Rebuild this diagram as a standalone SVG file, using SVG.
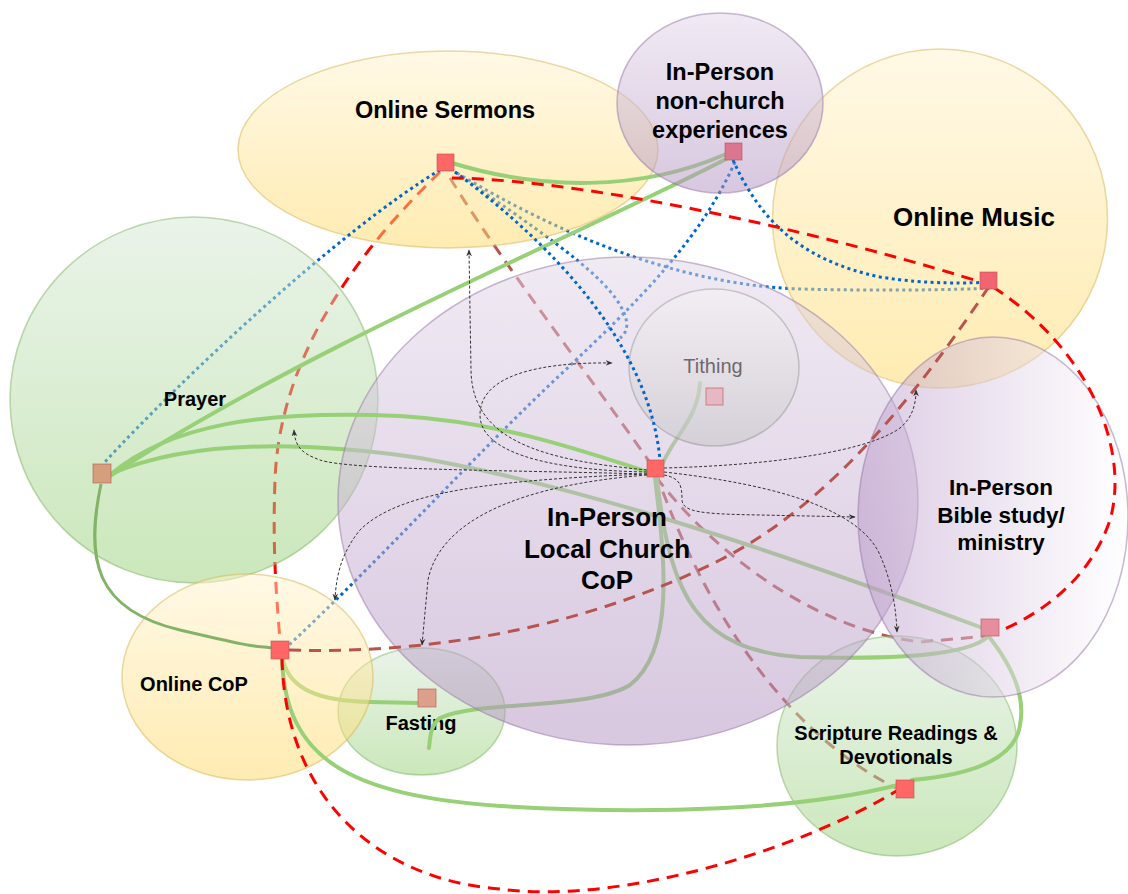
<svg xmlns="http://www.w3.org/2000/svg" width="1128" height="894" viewBox="0 0 1128 894">
<defs>
<linearGradient id="gY" x1="0" y1="0" x2="0" y2="1"><stop offset="0" stop-color="#fff2cc"/><stop offset="1" stop-color="#ffd966"/></linearGradient>
<linearGradient id="gG" x1="0" y1="0" x2="0" y2="1"><stop offset="0" stop-color="#d5e8d4"/><stop offset="1" stop-color="#97d077"/></linearGradient>
<linearGradient id="gP" x1="0" y1="0" x2="0" y2="1"><stop offset="0" stop-color="#e1d5e7"/><stop offset="1" stop-color="#b090c0"/></linearGradient>
<linearGradient id="gT" x1="0" y1="0" x2="0" y2="1"><stop offset="0" stop-color="#f5f5f5"/><stop offset="1" stop-color="#c4c4c4"/></linearGradient>
<linearGradient id="gB" x1="0" y1="0" x2="1" y2="0"><stop offset="0" stop-color="#b898c8"/><stop offset="1" stop-color="#ffffff"/></linearGradient>
<marker id="arr" viewBox="0 0 10 10" refX="9" refY="5" markerWidth="7" markerHeight="7" markerUnits="userSpaceOnUse" orient="auto"><path d="M0,1 L10,5 L0,9 L3,5 Z" fill="#333"/></marker>
<style>
.ell{fill-opacity:0.5;stroke-opacity:0.5;stroke-width:1.5}
.y{fill:url(#gY);stroke:#d6b656}
.gr{fill:url(#gG);stroke:#82b366}
.p{fill:url(#gP);stroke:#9673a6}
.t{fill:url(#gT);stroke:#666666;stroke-opacity:0.3}
.bs{fill:url(#gB);stroke:#9673a6}
.g{fill:none;stroke:#97d077;stroke-width:4;stroke-linecap:round}
.gd{fill:none;stroke:#82b366;stroke-width:3}
.bd{fill:none;stroke:#0066cc;stroke-width:3;stroke-dasharray:3 3.5}
.rd{fill:none;stroke:#ff0000;stroke-width:3;stroke-dasharray:12 8}
.br{fill:none;stroke:#b85450;stroke-width:3;stroke-dasharray:12 8}
.ar{fill:none;stroke:#333333;stroke-width:1;stroke-dasharray:3 2;marker-end:url(#arr)}
.lbl{font-family:"Liberation Sans",Arial,Helvetica,sans-serif;font-weight:bold;text-anchor:middle;fill:#000000}
.port{stroke:#b85450;stroke-width:1;stroke-opacity:0.6}
</style>
</defs>
<rect width="1128" height="894" fill="#ffffff"/>

<g id="connectors-under">
<path class="bd" d="M457,173 C 560,235 680,285 800,289 C 880,291 950,290 993,288"/>
<path class="bd" d="M455,172 C 530,225 600,270 620,305 C 630,322 628,332 620,338"/>
<path class="rd" d="M440,172 C 380,230 280,340 275,480 C 272,560 278,610 280,642"/>
<path class="br" d="M450,178 C 500,260 600,390 655,470 C 700,600 780,730 896,788"/>
<path class="br" d="M656,477 C 720,560 820,630 920,642 L 988,636"/>
</g>

<g id="node-online-sermons"><ellipse class="ell y" cx="448" cy="149.5" rx="210" ry="98.5"/><text class="lbl" x="445" y="118" font-size="23.5">Online Sermons</text></g>
<g id="node-online-music"><ellipse class="ell y" cx="940" cy="218.5" rx="167.5" ry="169.5"/><text class="lbl" x="974" y="226" font-size="26">Online Music</text></g>
<g id="node-scripture"><ellipse class="ell gr" cx="897" cy="746" rx="120" ry="110"/><text class="lbl" x="896" y="740" font-size="20">Scripture Readings &amp;</text><text class="lbl" x="896" y="764" font-size="20">Devotionals</text></g>
<g id="node-fasting"><ellipse class="ell gr" cx="421.5" cy="711.5" rx="83.5" ry="63.5"/><text class="lbl" x="421" y="730" font-size="20">Fasting</text></g>

<g id="connectors-lower">
<path class="bd" d="M440,170 C 340,230 180,380 104,463"/>
<path class="bd" d="M735,162 C 700,240 640,300 560,375 C 480,450 380,560 289,645"/>
<path class="g" d="M283,660 C 290,690 320,701 370,702 L 420,703"/>
</g>

<g id="node-prayer"><ellipse class="ell gr" cx="194" cy="400" rx="184" ry="183"/><text class="lbl" x="195" y="406" font-size="20">Prayer</text></g>
<g id="node-online-cop"><ellipse class="ell y" cx="247.5" cy="677" rx="125.5" ry="103"/><text class="lbl" x="194" y="691" font-size="20">Online CoP</text></g>

<g id="connectors-middle">
<path class="g" d="M452,163 C 540,190 640,192 726,154"/>
<path class="g" d="M728,158 C 600,225 300,350 110,476"/>
<path class="g" d="M111,474 C 200,435 330,445 420,458 C 600,490 800,560 988,630"/>
<path class="g" d="M655,478 C 665,560 675,650 630,685 C 590,710 480,700 440,718 C 430,725 430,740 429,748"/>
<path class="g" d="M657,478 C 670,600 700,650 800,657 C 900,660 975,655 990,634"/>
<path class="g" d="M700,383 C 698,420 670,440 660,470"/>
<path class="g" d="M990,638 C 1015,670 1025,700 1020,725 C 1015,760 970,775 912,780"/>
</g>

<g id="node-local-church"><ellipse class="ell p" cx="628" cy="501" rx="290" ry="244"/><text class="lbl" x="607" y="526" font-size="26">In-Person</text><text class="lbl" x="607" y="558" font-size="26">Local Church</text><text class="lbl" x="607" y="589" font-size="26">CoP</text></g>
<g id="node-tithing"><ellipse class="ell t" cx="714" cy="367.5" rx="85" ry="78.5"/><text x="713" y="373" font-size="20" font-family="Liberation Sans, Arial, sans-serif" text-anchor="middle" fill="#6e686e">Tithing</text></g>
<g id="node-bible-study"><ellipse class="ell bs" cx="993" cy="517" rx="135" ry="180"/><text class="lbl" x="1001" y="495" font-size="22.5">In-Person</text><text class="lbl" x="1001" y="523" font-size="22.5">Bible study/</text><text class="lbl" x="1001" y="550" font-size="22.5">ministry</text></g>
<g id="node-non-church"><ellipse class="ell p" cx="720" cy="103" rx="103" ry="90"/><text class="lbl" x="720" y="80" font-size="23.5">In-Person</text><text class="lbl" x="720" y="109" font-size="23.5">non-church</text><text class="lbl" x="720" y="138" font-size="23.5">experiences</text></g>

<g id="connectors">
<path class="bd" d="M455,172 C 560,250 650,350 660,460"/>
<path class="bd" d="M733,160 C 760,220 800,260 880,277 C 930,285 970,283 993,282"/>
<path class="g" d="M111,474 C 170,425 260,410 400,416 C 500,422 580,450 648,472"/>
<path class="gd" d="M101,484 C 85,560 95,610 180,630 S 250,645 272,648"/>
<path class="g" d="M282,658 C 285,760 350,795 500,806 C 650,815 800,810 898,785"/>
<path class="rd" d="M452,178 C 600,180 850,240 990,285"/>
<path class="rd" d="M993,287 C 1090,350 1130,450 1110,520 C 1090,580 1040,615 995,633"/>
<path class="br" d="M289,650 C 450,655 600,620 720,560 C 830,505 920,390 988,288"/>
<path class="rd" d="M282,658 C 285,800 380,880 500,889 C 620,905 800,850 898,790"/>
<path class="ar" d="M647,470 C 540,460 472,440 471,370 L 469,250"/>
<path class="ar" d="M647,472 C 540,470 480,450 480,415 C 480,375 540,362 612,363"/>
<path class="ar" d="M647,474 C 500,470 350,470 320,460 C 300,453 295,445 294,430"/>
<path class="ar" d="M647,474 C 500,480 400,490 360,530 C 342,552 336,575 335,600"/>
<path class="ar" d="M647,475 C 520,485 440,520 428,580 L 422,645"/>
<path class="ar" d="M664,475 C 680,478 682,485 682,500 C 683,512 700,514 760,515 L 855,517"/>
<path class="ar" d="M664,472 C 780,485 860,510 880,555 C 893,585 896,610 897,632"/>
<path class="ar" d="M664,468 C 780,465 870,450 900,428 C 912,418 916,405 916,390"/>
</g>

<g id="anchors">
<rect id="sq-sermons" class="port" x="437" y="154" width="17" height="17" fill="#ff6666"/>
<rect id="sq-non-church" class="port" x="725" y="143" width="17" height="17" fill="#db7590"/>
<rect id="sq-music" class="port" x="980" y="272" width="17" height="17" fill="#f26570"/>
<rect id="sq-prayer" class="port" x="93" y="464" width="18" height="19" fill="#d59f7e"/>
<rect id="sq-local-church" class="port" x="647" y="460" width="17" height="17" fill="#ff6666"/>
<rect id="sq-tithing" class="port" x="706" y="388" width="17" height="17" fill="#e6b8c4" stroke-opacity="0.2"/>
<rect id="sq-online-cop" class="port" x="271" y="641" width="18" height="18" fill="#ff6666"/>
<rect id="sq-fasting" class="port" x="418" y="689" width="18" height="18" fill="#dca08a"/>
<rect id="sq-bible" class="port" x="981" y="619" width="18" height="17" fill="#e68da0"/>
<rect id="sq-scripture" class="port" x="896" y="780" width="18" height="18" fill="#ff6666"/>
</g>
</svg>
